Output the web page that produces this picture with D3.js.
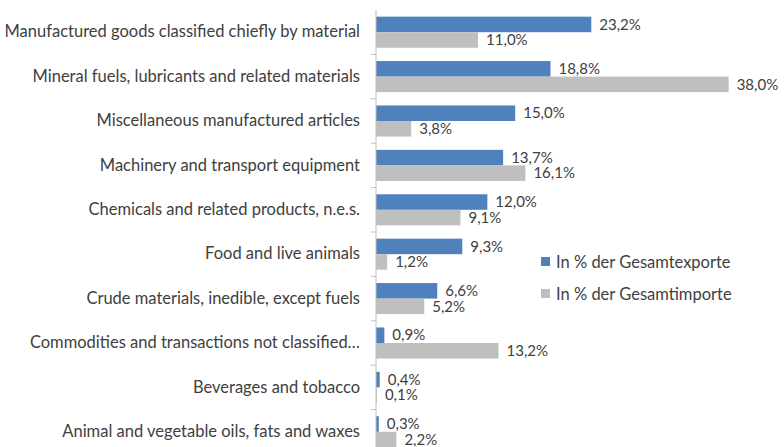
<!DOCTYPE html>
<html>
<head>
<meta charset="utf-8">
<script src="https://cdn.jsdelivr.net/npm/d3@7"></script>
<style>
  body { margin: 0; background: #fff; }
  text { font-family: Lato, "Open Sans", sans-serif; fill: #404040; }
</style>
</head>
<body>
<div id="chart"></div>
<script>
// data
var categories = [
  "Manufactured goods classified chiefly by material",
  "Mineral fuels, lubricants and related materials",
  "Miscellaneous manufactured articles",
  "Machinery and transport equipment",
  "Chemicals and related products, n.e.s.",
  "Food and live animals",
  "Crude materials, inedible, except fuels",
  "Commodities and transactions not classified\u2026",
  "Beverages and tobacco",
  "Animal and vegetable oils, fats and waxes"
];
var exportsPct = [23.2, 18.8, 15.0, 13.7, 12.0, 9.3, 6.6, 0.9, 0.4, 0.3];
var importsPct = [11.0, 38.0, 3.8, 16.1, 9.1, 1.2, 5.2, 13.2, 0.1, 2.2];
var seriesNames = ["In % der Gesamtexporte", "In % der Gesamtimporte"];
var colors = ["#4F81BD", "#BFBFBF"];

var width = 784, height = 447;
var margin = {top: 10, left: 376};

var svg = d3.select("#chart")
  .append("svg")
    .attr("width", width)
    .attr("height", height);

var x = d3.scaleLinear()
  .domain([0, 10])
  .range([margin.left, margin.left + 92.8]);

var y = d3.scaleBand()
  .domain(categories)
  .range([margin.top, margin.top + 444])
  .paddingInner(0.3)
  .paddingOuter(0.15);

var sub = d3.scaleBand()
  .domain([0, 1])
  .range([0, y.bandwidth()]);

var fmt = function(v) { return d3.format(".1f")(v).replace(".", ",") + "%"; };

var groups = svg.selectAll(".grp")
  .data(categories)
  .enter().append("g")
    .attr("transform", function(d) { return "translate(0," + y(d) + ")"; });

[exportsPct, importsPct].forEach(function(vals, s) {
  groups.append("rect")
    .attr("x", x(0))
    .attr("y", sub(s))
    .attr("width", function(d, i) { return x(vals[i]) - x(0); })
    .attr("height", sub.bandwidth())
    .attr("fill", colors[s]);

  groups.append("text")
    .attr("x", function(d, i) { return x(vals[i]) + 8; })
    .attr("y", sub(s) + sub.bandwidth() / 2)
    .attr("dy", "0.35em")
    .style("font-size", "15px")
    .text(function(d, i) { return fmt(vals[i]); });
});

// axis
var axis = svg.append("g")
  .attr("transform", "translate(" + x(0) + ",0)")
  .call(d3.axisLeft(y).tickSize(0).tickPadding(16));
axis.select(".domain").attr("stroke", "#bfbfbf").attr("d", "M0,10V447");
axis.selectAll("text")
  .style("font-size", "16.5px")
  .attr("font-family", null);

// small tick marks between groups
svg.selectAll(".tk")
  .data(categories.slice(1))
  .enter().append("line")
    .attr("x1", x(0) - 5).attr("x2", x(0))
    .attr("y1", function(d) { return y(d) - y.step() * y.paddingInner() / 2; })
    .attr("y2", function(d) { return y(d) - y.step() * y.paddingInner() / 2; })
    .attr("stroke", "#bfbfbf");

// legend
var legend = svg.selectAll(".leg")
  .data(seriesNames)
  .enter().append("g")
    .attr("transform", function(d, i) { return "translate(541," + (262 + i * 32) + ")"; });
legend.append("rect")
  .attr("x", 0).attr("y", -5)
  .attr("width", 9).attr("height", 9)
  .attr("fill", function(d, i) { return colors[i]; });
legend.append("text")
  .attr("x", 15).attr("y", 0)
  .attr("dy", "0.35em")
  .style("font-size", "16.5px")
  .text(function(d) { return d; });
</script>
</body>
</html>
